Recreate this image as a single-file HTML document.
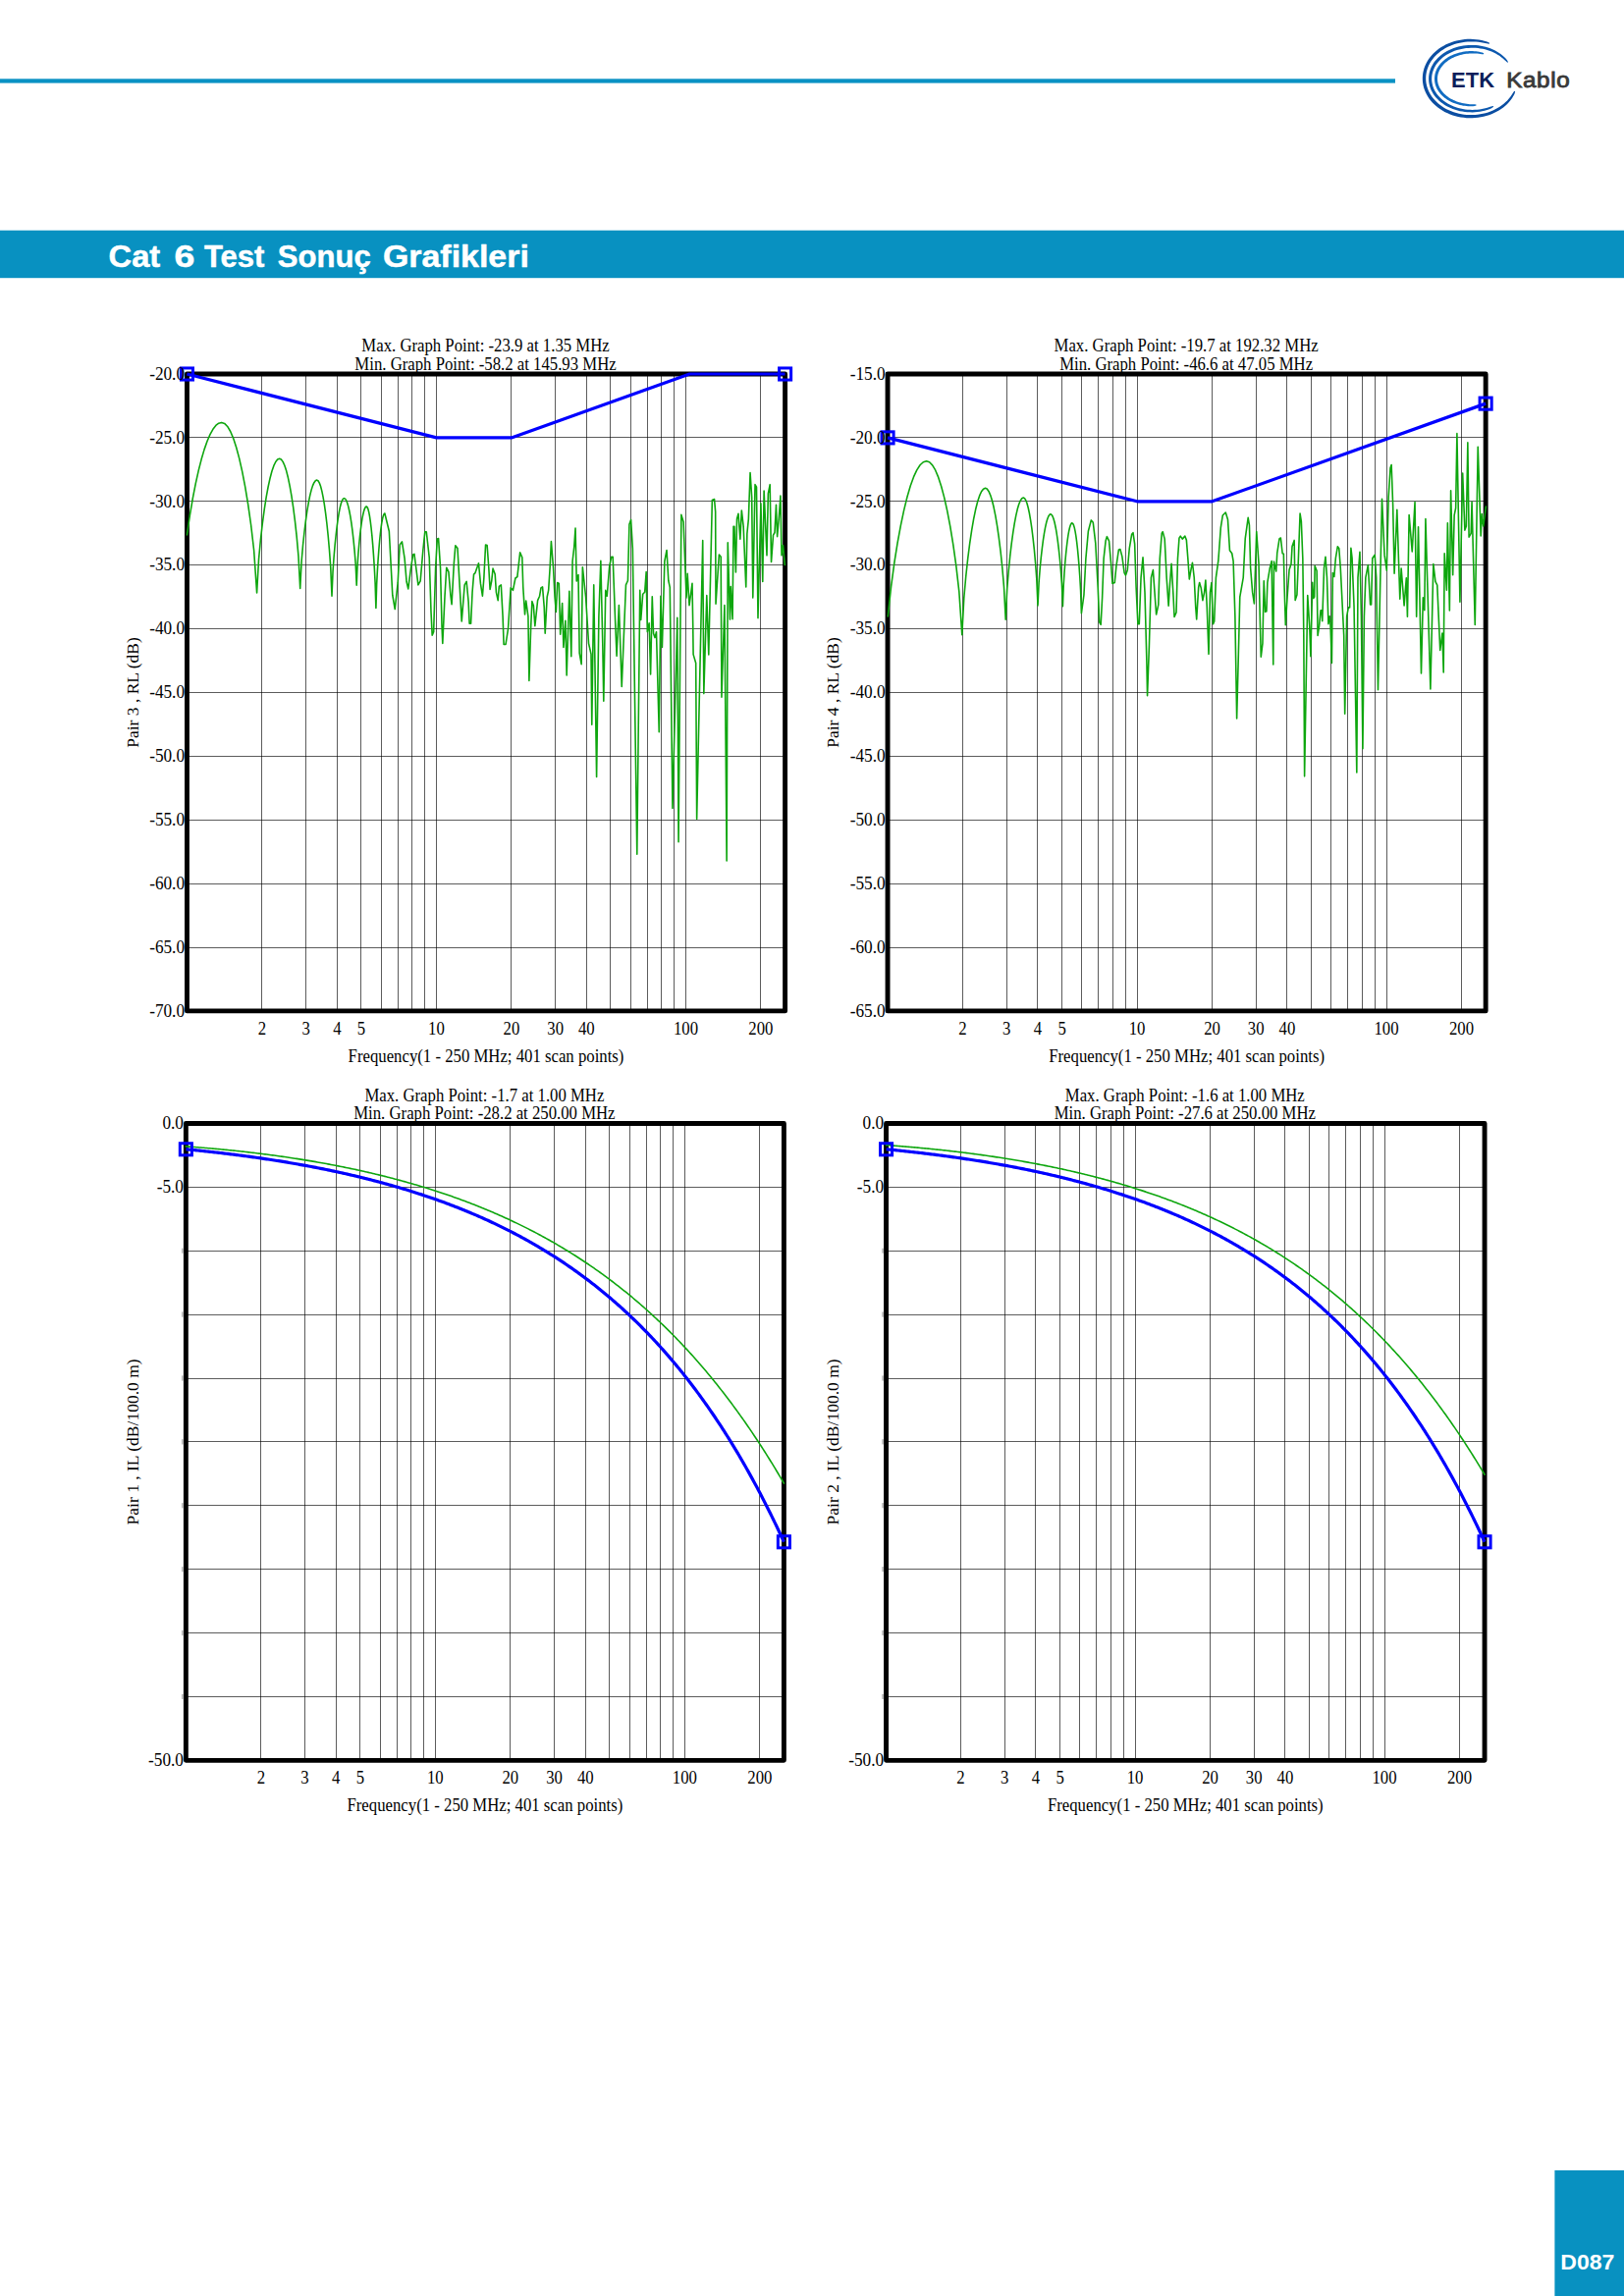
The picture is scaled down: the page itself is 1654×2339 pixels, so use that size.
<!DOCTYPE html>
<html><head><meta charset="utf-8"><title>Cat 6 Test Sonuç Grafikleri</title>
<style>html,body{margin:0;padding:0;background:#fff}body{width:1654px;height:2339px;overflow:hidden;font-family:"Liberation Serif",serif}svg{display:block}</style>
</head><body>
<svg width="1654" height="2339" viewBox="0 0 1654 2339">
<rect x="0" y="80.3" width="1421" height="4.3" fill="#0a92c4"/>
<rect x="0" y="234.7" width="1654" height="48.5" fill="#0891c1"/>
<rect x="1583.4" y="2211" width="80" height="140" fill="#0891c1"/>
<g font-family="'Liberation Serif', serif" font-size="16.75" fill="#000">
<path d="M266.5 381V1029.9M311.5 381V1029.9M343.5 381V1029.9M367.5 381V1029.9M388.5 381V1029.9M405.5 381V1029.9M419.5 381V1029.9M432.5 381V1029.9M444.5 381V1029.9M520.5 381V1029.9M565.5 381V1029.9M597.5 381V1029.9M621.5 381V1029.9M642.5 381V1029.9M659.5 381V1029.9M673.5 381V1029.9M686.5 381V1029.9M698.5 381V1029.9M774.5 381V1029.9" stroke="#000" stroke-opacity="0.64" stroke-width="1" fill="none"/>
<path d="M190.45 445.5H799.6M190.45 510.5H799.6M190.45 575.5H799.6M190.45 640.5H799.6M190.45 705.5H799.6M190.45 770.5H799.6M190.45 835.5H799.6M190.45 900.5H799.6M190.45 965.5H799.6" stroke="#000" stroke-opacity="0.64" stroke-width="1" fill="none"/>
<rect x="190.45" y="381" width="609.15" height="648.9" fill="none" stroke="#000" stroke-width="4.9" stroke-linejoin="round"/>
<polyline points="190.45,544.82 193.39,524.87 196.32,507.69 199.26,492.63 202.2,479.39 205.14,467.83 208.07,457.87 211.01,449.47 213.95,442.6 216.89,437.27 219.82,433.45 222.76,431.16 225.7,430.4 228.69,431.41 231.68,434.44 234.68,439.5 237.67,446.58 240.66,455.68 243.65,466.85 246.64,480.13 249.63,495.64 252.62,513.66 255.62,534.76 258.61,560.53 261.6,604 263.52,569.77 265.43,549.47 267.35,532.86 269.27,518.68 271.18,506.46 273.1,496 275.02,487.21 276.93,480.04 278.85,474.47 280.77,470.48 282.68,468.1 284.6,467.3 286.36,468.07 288.12,470.38 289.88,474.22 291.63,479.61 293.39,486.54 295.15,495.04 296.91,505.14 298.67,516.95 300.43,530.66 302.18,546.71 303.94,566.32 305.7,599.4 307.12,571.78 308.53,555.4 309.95,542 311.37,530.55 312.78,520.7 314.2,512.26 315.62,505.16 317.03,499.38 318.45,494.88 319.87,491.67 321.28,489.74 322.7,489.1 323.97,489.79 325.25,491.85 326.52,495.29 327.8,500.1 329.07,506.3 330.35,513.9 331.62,522.93 332.9,533.49 334.18,545.74 335.45,560.09 336.73,577.63 338,607.2 339.04,582.26 340.08,567.47 341.12,555.37 342.17,545.03 343.21,536.13 344.25,528.51 345.29,522.11 346.33,516.88 347.38,512.82 348.42,509.92 349.46,508.18 350.5,507.6 351.56,508.12 352.62,509.66 353.68,512.24 354.73,515.86 355.79,520.5 356.85,526.2 357.91,532.98 358.97,540.9 360.02,550.09 361.08,560.86 362.14,574.01 363.2,596.2 364.03,576.12 364.87,564.21 365.7,554.46 366.53,546.14 367.37,538.97 368.2,532.84 369.03,527.68 369.87,523.47 370.7,520.2 371.53,517.87 372.37,516.47 373.2,516 374.01,516.6 374.82,518.41 375.62,521.42 376.43,525.64 377.24,531.07 378.05,537.73 378.86,545.65 379.67,554.9 380.47,565.64 381.28,578.22 382.09,593.58 382.9,619.5 383.65,595.33 384.4,581.01 385.15,569.28 385.9,559.27 386.65,550.64 387.4,543.26 388.15,537.05 388.9,531.99 389.65,528.06 390.4,525.25 391.15,523.56 391.9,523 396.33,541.23 399.78,606.26 402.24,620.54 405.2,593.45 407.17,555.02 409.43,551.87 412.09,568.82 414.06,592.46 415.74,599.85 418.5,578.67 420.67,564.88 421.95,564.38 424.41,583.6 425.89,595.91 428.15,591.97 430.81,560.94 432.78,541.72 434.26,541.72 437.22,567.83 438.99,623 440.17,647.14 441.65,643.69 443.62,578.67 445.3,549.11 446.58,548.62 448.55,578.67 450.02,637.78 450.81,655.52 452.98,608.23 454.75,578.18 456.92,582.61 458.89,606.26 460.07,615.62 462.34,573.74 463.82,555.81 465.99,558.47 468.25,598.37 470.22,632.86 473.18,595.91 475.15,592.46 477.12,613.15 478.1,635.32 479.58,635.32 481.06,603.3 482.54,585.07 484.01,583.6 487.46,573.74 489.43,594.43 491.4,607.24 492.88,588.52 494.56,555.02 496.13,555.52 497.81,578.67 499.09,600.34 500.76,591.48 502.04,579.16 504.21,585.07 505.39,603.3 507.17,611.67 508.35,597.39 510.32,595.91 512.09,627.93 513.08,656.5 515.05,656.5 517.51,640.74 520.17,598.87 522.44,601.33 524.9,589.01 526.87,587.54 529.63,562.91 531.8,567.83 532.78,598.37 534.56,625.96 535.74,612.17 537.91,627.93 538.89,693.45 540.71,637.78 541.9,612.66 543.37,617.09 544.85,637.78 547.61,611.67 549.58,607.24 550.96,598.87 552.54,597.88 554.21,618.08 555.2,645.17 557.17,608.23 558.65,601.33 560.12,578.67 561.4,551.58 563.57,578.67 565.05,608.23 566.33,623.5 567.71,593.45 569.29,594.43 570.67,646.16 572.64,614.63 573.92,659.46 575.89,632.36 577.17,688.03 579.83,602.32 581.8,668.82 583.08,571.77 584.75,557 586.03,537.98 587.22,591.97 588.99,585.57 590.17,665.37 592.14,676.7 593.33,577.68 596.58,608.23 599.53,655.52 602,666.35 602.78,738.28 604.75,595.91 607.61,791.48 609.88,627.93 611.85,571.28 613.82,657.49 614.8,714.14 616.77,601.33 618.25,607.24 620.71,576.7 622.68,567.34 624.16,567.34 626.63,632.86 628.1,668.33 630.37,616.6 633.23,699.36 637.46,595.91 639.43,591.48 640.91,534.33 642.59,529.41 644.36,558.97 648.79,870.3 651.75,601.33 652.73,631.38 654.7,605.27 656.67,603.3 658.15,582.61 659.33,643.69 661.11,634.83 662.59,687.04 664.26,607.73 665.54,645.17 667.02,649.61 668.5,643.69 671.26,745.67 672.93,607.24 674.41,659.46 676.87,571.77 679.04,560.44 680.81,591.48 682.29,598.37 684.95,823.5 689.81,629.24 691.07,857.69 693.88,524.38 696.1,531.78 699.06,608.88 700.17,584.34 702.02,616.65 704.99,594.33 705.73,637.01 706.1,666.62 708.69,675.5 709.65,834.37 715.72,550.66 716.83,706.59 719.79,606.66 721.79,666.99 725.34,509.58 727.56,508.47 728.67,521.42 729.04,615.17 732.37,565.09 734.22,567.31 734.96,710.29 737.92,616.65 740.14,876.94 741.25,552.88 743.48,631.09 744.22,597.66 746.07,630.72 747.03,536.23 747.92,536.23 749.4,582.86 750.51,528.82 751.99,523.27 753.84,549.18 755.32,519.94 757.17,536.23 759.76,598.03 760.87,543.63 762.35,528.82 764.05,481.45 765.68,506.62 766.79,608.88 769.01,493.66 770.49,496.25 771.97,629.61 774.93,512.91 776.78,592.48 778.12,499.96 781,565.83 782.34,502.92 784.19,493.66 785.52,572.49 787.52,545.11 789,542.52 790.48,514.39 791.59,546.59 793.22,528.82 794.92,505.14 796.03,565.83 797.51,555.47 799.36,575.46" fill="none" stroke="#0ea60e" stroke-width="1.6" stroke-linejoin="round" stroke-linecap="round"/>
<polyline points="190.45,381 444.45,445.89 520.91,445.89 702.34,381 799.53,381" fill="none" stroke="#0000ff" stroke-width="3.2" stroke-linejoin="round"/>
<rect x="184.4" y="374.95" width="12.1" height="12.1" fill="none" stroke="#0000ff" stroke-width="3"/>
<rect x="793.55" y="374.95" width="12.1" height="12.1" fill="none" stroke="#0000ff" stroke-width="3"/>
<text transform="translate(188.05 386.75) scale(1.03 1.10)" text-anchor="end">-20.0</text>
<text transform="translate(188.05 451.64) scale(1.03 1.10)" text-anchor="end">-25.0</text>
<text transform="translate(188.05 516.53) scale(1.03 1.10)" text-anchor="end">-30.0</text>
<text transform="translate(188.05 581.42) scale(1.03 1.10)" text-anchor="end">-35.0</text>
<text transform="translate(188.05 646.31) scale(1.03 1.10)" text-anchor="end">-40.0</text>
<text transform="translate(188.05 711.2) scale(1.03 1.10)" text-anchor="end">-45.0</text>
<text transform="translate(188.05 776.09) scale(1.03 1.10)" text-anchor="end">-50.0</text>
<text transform="translate(188.05 840.98) scale(1.03 1.10)" text-anchor="end">-55.0</text>
<text transform="translate(188.05 905.87) scale(1.03 1.10)" text-anchor="end">-60.0</text>
<text transform="translate(188.05 970.76) scale(1.03 1.10)" text-anchor="end">-65.0</text>
<text transform="translate(188.05 1035.65) scale(1.03 1.10)" text-anchor="end">-70.0</text>
<text transform="translate(266.91 1053.8) scale(1 1.09)" text-anchor="middle">2</text>
<text transform="translate(311.64 1053.8) scale(1 1.09)" text-anchor="middle">3</text>
<text transform="translate(343.37 1053.8) scale(1 1.09)" text-anchor="middle">4</text>
<text transform="translate(367.99 1053.8) scale(1 1.09)" text-anchor="middle">5</text>
<text transform="translate(444.45 1053.8) scale(1 1.09)" text-anchor="middle">10</text>
<text transform="translate(520.91 1053.8) scale(1 1.09)" text-anchor="middle">20</text>
<text transform="translate(565.64 1053.8) scale(1 1.09)" text-anchor="middle">30</text>
<text transform="translate(597.37 1053.8) scale(1 1.09)" text-anchor="middle">40</text>
<text transform="translate(698.45 1053.8) scale(1 1.09)" text-anchor="middle">100</text>
<text transform="translate(774.91 1053.8) scale(1 1.09)" text-anchor="middle">200</text>
<text transform="translate(495.02 1081.8) scale(1 1.08)" text-anchor="middle">Frequency(1 - 250 MHz; 401 scan points)</text>
<text transform="translate(494.52 358) scale(1 1.07)" text-anchor="middle">Max. Graph Point: -23.9 at 1.35 MHz</text>
<text transform="translate(494.52 376.8) scale(1 1.07)" text-anchor="middle">Min. Graph Point: -58.2 at 145.93 MHz</text>
<text transform="translate(140.6 705.45) rotate(-90)" text-anchor="middle" font-size="17.5">Pair 3 , RL (dB)</text>
<path d="M980.5 381V1029.9M1025.5 381V1029.9M1056.5 381V1029.9M1081.5 381V1029.9M1101.5 381V1029.9M1118.5 381V1029.9M1133.5 381V1029.9M1146.5 381V1029.9M1158.5 381V1029.9M1234.5 381V1029.9M1279.5 381V1029.9M1310.5 381V1029.9M1335.5 381V1029.9M1355.5 381V1029.9M1372.5 381V1029.9M1387.5 381V1029.9M1400.5 381V1029.9M1412.5 381V1029.9M1488.5 381V1029.9" stroke="#000" stroke-opacity="0.64" stroke-width="1" fill="none"/>
<path d="M904.05 445.5H1513.15M904.05 510.5H1513.15M904.05 575.5H1513.15M904.05 640.5H1513.15M904.05 705.5H1513.15M904.05 770.5H1513.15M904.05 835.5H1513.15M904.05 900.5H1513.15M904.05 965.5H1513.15" stroke="#000" stroke-opacity="0.64" stroke-width="1" fill="none"/>
<rect x="904.05" y="381" width="609.1" height="648.9" fill="none" stroke="#000" stroke-width="4.9" stroke-linejoin="round"/>
<polyline points="904.3,627.96 907.57,597.65 910.85,573.49 914.12,552.9 917.4,535.06 920.67,519.57 923.95,506.28 927.23,495.08 930.5,485.94 933.77,478.84 937.05,473.76 940.33,470.72 943.6,469.7 946.62,470.73 949.63,473.82 952.65,478.97 955.67,486.18 958.68,495.46 961.7,506.84 964.72,520.37 967.73,536.19 970.75,554.54 973.77,576.04 976.78,602.3 979.8,646.6 981.77,609.21 983.75,587.05 985.72,568.91 987.7,553.41 989.67,540.07 991.65,528.65 993.62,519.05 995.6,511.21 997.58,505.13 999.55,500.78 1001.52,498.17 1003.5,497.3 1005.23,498.08 1006.95,500.42 1008.67,504.31 1010.4,509.77 1012.12,516.79 1013.85,525.39 1015.58,535.63 1017.3,547.59 1019.03,561.47 1020.75,577.73 1022.48,597.59 1024.2,631.1 1025.71,600.02 1027.22,581.6 1028.72,566.52 1030.23,553.64 1031.74,542.55 1033.25,533.06 1034.76,525.07 1036.27,518.56 1037.78,513.5 1039.28,509.89 1040.79,507.72 1042.3,507 1043.52,507.64 1044.75,509.56 1045.97,512.76 1047.2,517.24 1048.42,523.01 1049.65,530.07 1050.88,538.48 1052.1,548.3 1053.33,559.71 1054.55,573.06 1055.78,589.38 1057,616.9 1058.08,593.59 1059.17,579.76 1060.25,568.45 1061.33,558.79 1062.42,550.47 1063.5,543.35 1064.58,537.36 1065.67,532.48 1066.75,528.68 1067.83,525.97 1068.92,524.34 1070,523.8 1071.03,524.35 1072.07,525.99 1073.1,528.72 1074.13,532.54 1075.17,537.46 1076.2,543.49 1077.23,550.67 1078.27,559.05 1079.3,568.79 1080.33,580.19 1081.37,594.11 1082.4,617.6 1083.19,596.36 1083.98,583.78 1084.78,573.47 1085.57,564.67 1086.36,557.09 1087.15,550.6 1087.94,545.15 1088.73,540.7 1089.53,537.24 1090.32,534.78 1091.11,533.29 1091.9,532.8 1092.69,533.34 1093.48,534.94 1094.28,537.62 1095.07,541.36 1095.86,546.18 1096.65,552.1 1097.44,559.12 1098.23,567.34 1099.03,576.88 1099.82,588.04 1100.61,601.69 1101.4,624.7 1103.93,606.26 1105.9,568.82 1108.36,541.23 1111.32,529.9 1113.29,532.36 1115.75,553.05 1118.21,598.37 1119.69,633.84 1121.17,636.31 1122.65,608.23 1124.12,568.82 1126.09,551.08 1127.37,546.65 1129.54,551.08 1131.51,573.74 1132.99,594.43 1135.26,593.45 1136.93,576.7 1139.39,559.95 1140.87,559.46 1142.84,566.85 1145.11,583.6 1146.49,586.06 1148.26,580.64 1150.23,558.97 1152.69,544.19 1153.98,542.71 1155.65,554.04 1157.13,598.37 1158.9,635.81 1160.28,635.81 1162.05,588.52 1164.02,567.83 1166,603.3 1167.97,677.19 1168.56,708.72 1170.43,657.49 1172.4,588.52 1174.37,580.64 1176.34,608.23 1177.62,625.96 1179.79,616.11 1181.27,568.82 1183.24,543.2 1184.22,541.72 1186.19,549.11 1188.16,588.52 1190.13,617.09 1191.61,593.45 1193.09,574.24 1195.06,608.23 1196.04,628.42 1198.01,623.99 1199.49,568.82 1200.97,548.13 1202.25,546.16 1204.22,549.11 1206.88,546.16 1208.36,550.1 1209.84,568.82 1211.32,590 1213.29,578.67 1214.47,573.25 1216.24,588.52 1217.72,618.08 1218.7,630.89 1220.67,598.37 1221.66,593.45 1223.33,599.36 1224.91,611.67 1226.59,603.3 1227.87,590.99 1229.25,618.08 1231.02,666.35 1232.5,603.3 1233.98,593.45 1235.45,635.81 1236.73,632.86 1238.41,588.52 1240.87,570.79 1243.33,537.29 1245.31,524.98 1248.26,522.02 1250.48,529.26 1252.45,560.79 1254.71,563.74 1256.09,571.63 1257.87,627.78 1259.64,731.92 1261.32,667.19 1262.79,608.08 1266.24,588.37 1268.21,548.97 1271.17,527.29 1272.45,535.17 1273.63,578.52 1275.6,603.15 1277.37,614.98 1278.56,578.52 1279.74,541.58 1282,573.6 1283.48,637.64 1284.27,669.16 1285.95,655.37 1287.23,591.82 1288.61,623.35 1289.89,622.86 1290.87,593.3 1293.33,578.52 1295.11,571.63 1296.78,677.04 1297.47,572.12 1299.74,581.97 1300.72,563.74 1302.99,548.97 1304.37,547.98 1306.14,563.74 1307.33,564.24 1308.11,598.23 1309.3,636.65 1311.07,608.08 1313.04,580.49 1315.01,574.58 1316,556.85 1318.16,550.44 1319.15,611.53 1320.92,606.11 1322.4,568.67 1324.07,523.05 1325.35,531.23 1326.83,568.67 1327.82,647.49 1328.61,790.84 1331.76,606.6 1333.73,637.64 1334.91,668.67 1336.68,593.3 1337.67,609.56 1338.66,608.08 1339.15,576.55 1341.12,581.48 1342.1,647.49 1343.58,637.64 1345.06,621.87 1346.04,621.87 1346.73,632.71 1348.51,578.52 1349.99,567.19 1351.46,588.37 1352.94,635.67 1354.22,627.78 1354.91,633.69 1356.39,675.57 1357.37,583.45 1358.85,587.39 1360.33,568.67 1362.3,556.85 1363.78,558.82 1365.26,578.52 1367.23,617.93 1368.7,647.49 1369.69,727.29 1371.66,627.78 1373.33,618.92 1374.62,618.92 1375.9,558.33 1377.08,568.67 1379.05,617.93 1381.81,786.9 1382.99,588.37 1384.96,562.27 1386.44,627.78 1387.92,762.76 1389.39,627.78 1390.87,588.37 1393.33,575.57 1395.6,615.96 1396.59,615.96 1397.77,568.67 1400.23,565.22 1401.71,588.37 1403.48,702.66 1407.51,508.27 1410.1,565.64 1412.32,581.18 1414.17,506.42 1416.02,476.81 1417.13,473.48 1418.62,513.82 1420.1,584.14 1422.83,519.37 1424.54,573.04 1425.79,610.17 1427.13,578.96 1430.09,616.83 1432.31,588.7 1433.42,628.3 1435.12,524.56 1438.23,561.94 1441.04,511.6 1442.67,628.3 1444.52,536.77 1447.48,686.04 1449.33,608.69 1450.81,621.64 1451.92,528.63 1456.88,701.95 1459.84,574.52 1461.92,592.4 1463.77,596.1 1466.73,662.35 1468.95,644.96 1470.21,684.93 1471.17,563.79 1473.39,601.28 1474.35,532.7 1476.35,622.01 1477.61,499.76 1479.68,585.62 1481.16,524.93 1482.64,517.52 1483.9,441.65 1486.93,613.13 1489.67,481.99 1491.89,540.1 1493.37,536.03 1494.85,450.91 1496.11,547.13 1498.19,543.43 1499.07,511.23 1502.26,636.44 1505.22,455.35 1508.18,546.02 1509.29,523.45 1510.77,536.03 1513.36,516.04" fill="none" stroke="#0ea60e" stroke-width="1.6" stroke-linejoin="round" stroke-linecap="round"/>
<polyline points="904.05,445.89 1158.05,510.78 1234.51,510.78 1513.13,411.13" fill="none" stroke="#0000ff" stroke-width="3.2" stroke-linejoin="round"/>
<rect x="898" y="439.84" width="12.1" height="12.1" fill="none" stroke="#0000ff" stroke-width="3"/>
<rect x="1507.08" y="405.08" width="12.1" height="12.1" fill="none" stroke="#0000ff" stroke-width="3"/>
<text transform="translate(901.65 386.75) scale(1.03 1.10)" text-anchor="end">-15.0</text>
<text transform="translate(901.65 451.64) scale(1.03 1.10)" text-anchor="end">-20.0</text>
<text transform="translate(901.65 516.53) scale(1.03 1.10)" text-anchor="end">-25.0</text>
<text transform="translate(901.65 581.42) scale(1.03 1.10)" text-anchor="end">-30.0</text>
<text transform="translate(901.65 646.31) scale(1.03 1.10)" text-anchor="end">-35.0</text>
<text transform="translate(901.65 711.2) scale(1.03 1.10)" text-anchor="end">-40.0</text>
<text transform="translate(901.65 776.09) scale(1.03 1.10)" text-anchor="end">-45.0</text>
<text transform="translate(901.65 840.98) scale(1.03 1.10)" text-anchor="end">-50.0</text>
<text transform="translate(901.65 905.87) scale(1.03 1.10)" text-anchor="end">-55.0</text>
<text transform="translate(901.65 970.76) scale(1.03 1.10)" text-anchor="end">-60.0</text>
<text transform="translate(901.65 1035.65) scale(1.03 1.10)" text-anchor="end">-65.0</text>
<text transform="translate(980.51 1053.8) scale(1 1.09)" text-anchor="middle">2</text>
<text transform="translate(1025.24 1053.8) scale(1 1.09)" text-anchor="middle">3</text>
<text transform="translate(1056.97 1053.8) scale(1 1.09)" text-anchor="middle">4</text>
<text transform="translate(1081.59 1053.8) scale(1 1.09)" text-anchor="middle">5</text>
<text transform="translate(1158.05 1053.8) scale(1 1.09)" text-anchor="middle">10</text>
<text transform="translate(1234.51 1053.8) scale(1 1.09)" text-anchor="middle">20</text>
<text transform="translate(1279.24 1053.8) scale(1 1.09)" text-anchor="middle">30</text>
<text transform="translate(1310.97 1053.8) scale(1 1.09)" text-anchor="middle">40</text>
<text transform="translate(1412.05 1053.8) scale(1 1.09)" text-anchor="middle">100</text>
<text transform="translate(1488.51 1053.8) scale(1 1.09)" text-anchor="middle">200</text>
<text transform="translate(1208.6 1081.8) scale(1 1.08)" text-anchor="middle">Frequency(1 - 250 MHz; 401 scan points)</text>
<text transform="translate(1208.1 358) scale(1 1.07)" text-anchor="middle">Max. Graph Point: -19.7 at 192.32 MHz</text>
<text transform="translate(1208.1 376.8) scale(1 1.07)" text-anchor="middle">Min. Graph Point: -46.6 at 47.05 MHz</text>
<text transform="translate(854.4 705.45) rotate(-90)" text-anchor="middle" font-size="17.5">Pair 4 , RL (dB)</text>
<path d="M265.5 1144.5V1793.35M310.5 1144.5V1793.35M342.5 1144.5V1793.35M366.5 1144.5V1793.35M387.5 1144.5V1793.35M404.5 1144.5V1793.35M418.5 1144.5V1793.35M431.5 1144.5V1793.35M443.5 1144.5V1793.35M519.5 1144.5V1793.35M564.5 1144.5V1793.35M596.5 1144.5V1793.35M620.5 1144.5V1793.35M641.5 1144.5V1793.35M658.5 1144.5V1793.35M672.5 1144.5V1793.35M685.5 1144.5V1793.35M697.5 1144.5V1793.35M773.5 1144.5V1793.35" stroke="#000" stroke-opacity="0.64" stroke-width="1" fill="none"/>
<path d="M189.35 1209.5H798.4M189.35 1274.5H798.4M189.35 1339.5H798.4M189.35 1404.5H798.4M189.35 1468.5H798.4M189.35 1533.5H798.4M189.35 1598.5H798.4M189.35 1663.5H798.4M189.35 1728.5H798.4" stroke="#000" stroke-opacity="0.64" stroke-width="1" fill="none"/>
<rect x="189.35" y="1144.5" width="609.05" height="648.85" fill="none" stroke="#000" stroke-width="4.9" stroke-linejoin="round"/>
<polyline points="189.35,1167.88 190.87,1167.99 192.4,1168.11 193.92,1168.22 195.44,1168.33 196.96,1168.45 198.49,1168.57 200.01,1168.69 201.53,1168.81 203.05,1168.93 204.58,1169.05 206.1,1169.18 207.62,1169.3 209.14,1169.43 210.67,1169.56 212.19,1169.69 213.71,1169.82 215.23,1169.96 216.76,1170.09 218.28,1170.23 219.8,1170.37 221.33,1170.51 222.85,1170.65 224.37,1170.79 225.89,1170.94 227.42,1171.09 228.94,1171.23 230.46,1171.38 231.98,1171.54 233.51,1171.69 235.03,1171.84 236.55,1172 238.07,1172.16 239.6,1172.32 241.12,1172.48 242.64,1172.64 244.16,1172.81 245.69,1172.97 247.21,1173.14 248.73,1173.31 250.25,1173.48 251.78,1173.66 253.3,1173.83 254.82,1174.01 256.35,1174.19 257.87,1174.37 259.39,1174.55 260.91,1174.73 262.44,1174.92 263.96,1175.11 265.48,1175.3 267,1175.49 268.53,1175.68 270.05,1175.88 271.57,1176.07 273.09,1176.27 274.62,1176.47 276.14,1176.67 277.66,1176.88 279.18,1177.08 280.71,1177.29 282.23,1177.5 283.75,1177.71 285.28,1177.93 286.8,1178.14 288.32,1178.36 289.84,1178.58 291.37,1178.8 292.89,1179.02 294.41,1179.25 295.93,1179.48 297.46,1179.71 298.98,1179.94 300.5,1180.17 302.02,1180.41 303.55,1180.65 305.07,1180.88 306.59,1181.13 308.11,1181.37 309.64,1181.62 311.16,1181.86 312.68,1182.11 314.21,1182.37 315.73,1182.62 317.25,1182.88 318.77,1183.14 320.3,1183.4 321.82,1183.66 323.34,1183.93 324.86,1184.2 326.39,1184.47 327.91,1184.74 329.43,1185.01 330.95,1185.29 332.48,1185.57 334,1185.85 335.52,1186.13 337.04,1186.42 338.57,1186.71 340.09,1187 341.61,1187.29 343.14,1187.59 344.66,1187.88 346.18,1188.19 347.7,1188.49 349.23,1188.79 350.75,1189.1 352.27,1189.41 353.79,1189.72 355.32,1190.04 356.84,1190.36 358.36,1190.68 359.88,1191 361.41,1191.33 362.93,1191.65 364.45,1191.98 365.97,1192.32 367.5,1192.65 369.02,1192.99 370.54,1193.33 372.06,1193.68 373.59,1194.02 375.11,1194.37 376.63,1194.73 378.16,1195.08 379.68,1195.44 381.2,1195.8 382.72,1196.16 384.25,1196.53 385.77,1196.9 387.29,1197.27 388.81,1197.64 390.34,1198.02 391.86,1198.4 393.38,1198.78 394.9,1199.17 396.43,1199.56 397.95,1199.95 399.47,1200.35 400.99,1200.75 402.52,1201.15 404.04,1201.55 405.56,1201.96 407.09,1202.37 408.61,1202.78 410.13,1203.2 411.65,1203.62 413.18,1204.04 414.7,1204.47 416.22,1204.9 417.74,1205.33 419.27,1205.77 420.79,1206.21 422.31,1206.65 423.83,1207.1 425.36,1207.55 426.88,1208 428.4,1208.46 429.92,1208.92 431.45,1209.38 432.97,1209.85 434.49,1210.32 436.02,1210.79 437.54,1211.27 439.06,1211.75 440.58,1212.23 442.11,1212.72 443.63,1213.21 445.15,1213.71 446.67,1214.2 448.2,1214.71 449.72,1215.21 451.24,1215.72 452.76,1216.24 454.29,1216.76 455.81,1217.28 457.33,1217.8 458.85,1218.33 460.38,1218.86 461.9,1219.4 463.42,1219.94 464.95,1220.49 466.47,1221.04 467.99,1221.59 469.51,1222.15 471.04,1222.71 472.56,1223.27 474.08,1223.84 475.6,1224.42 477.13,1224.99 478.65,1225.58 480.17,1226.16 481.69,1226.75 483.22,1227.35 484.74,1227.95 486.26,1228.55 487.78,1229.16 489.31,1229.77 490.83,1230.39 492.35,1231.01 493.88,1231.64 495.4,1232.27 496.92,1232.9 498.44,1233.54 499.97,1234.19 501.49,1234.84 503.01,1235.49 504.53,1236.15 506.06,1236.81 507.58,1237.48 509.1,1238.15 510.62,1238.83 512.15,1239.51 513.67,1240.2 515.19,1240.9 516.71,1241.59 518.24,1242.3 519.76,1243 521.28,1243.72 522.8,1244.44 524.33,1245.16 525.85,1245.89 527.37,1246.62 528.9,1247.36 530.42,1248.1 531.94,1248.85 533.46,1249.61 534.99,1250.37 536.51,1251.14 538.03,1251.91 539.55,1252.69 541.08,1253.47 542.6,1254.26 544.12,1255.05 545.64,1255.85 547.17,1256.66 548.69,1257.47 550.21,1258.29 551.73,1259.11 553.26,1259.94 554.78,1260.77 556.3,1261.62 557.83,1262.46 559.35,1263.32 560.87,1264.18 562.39,1265.04 563.92,1265.91 565.44,1266.79 566.96,1267.67 568.48,1268.57 570.01,1269.46 571.53,1270.37 573.05,1271.28 574.57,1272.19 576.1,1273.12 577.62,1274.04 579.14,1274.98 580.66,1275.92 582.19,1276.87 583.71,1277.83 585.23,1278.79 586.76,1279.76 588.28,1280.74 589.8,1281.73 591.32,1282.72 592.85,1283.72 594.37,1284.72 595.89,1285.73 597.41,1286.75 598.94,1287.78 600.46,1288.82 601.98,1289.86 603.5,1290.91 605.03,1291.96 606.55,1293.03 608.07,1294.1 609.59,1295.18 611.12,1296.27 612.64,1297.36 614.16,1298.47 615.68,1299.58 617.21,1300.7 618.73,1301.82 620.25,1302.96 621.78,1304.1 623.3,1305.25 624.82,1306.41 626.34,1307.58 627.87,1308.76 629.39,1309.94 630.91,1311.13 632.43,1312.34 633.96,1313.55 635.48,1314.76 637,1315.99 638.52,1317.23 640.05,1318.47 641.57,1319.73 643.09,1320.99 644.61,1322.26 646.14,1323.54 647.66,1324.83 649.18,1326.13 650.71,1327.44 652.23,1328.76 653.75,1330.09 655.27,1331.42 656.8,1332.77 658.32,1334.13 659.84,1335.49 661.36,1336.87 662.89,1338.25 664.41,1339.65 665.93,1341.05 667.45,1342.47 668.98,1343.89 670.5,1345.33 672.02,1346.77 673.54,1348.23 675.07,1349.7 676.59,1351.17 678.11,1352.66 679.64,1354.16 681.16,1355.67 682.68,1357.19 684.2,1358.72 685.73,1360.26 687.25,1361.81 688.77,1363.38 690.29,1364.95 691.82,1366.54 693.34,1368.13 694.86,1369.74 696.38,1371.36 697.91,1373 699.43,1374.64 700.95,1376.29 702.47,1377.96 704,1379.64 705.52,1381.33 707.04,1383.03 708.57,1384.75 710.09,1386.48 711.61,1388.22 713.13,1389.97 714.66,1391.74 716.18,1393.51 717.7,1395.3 719.22,1397.11 720.75,1398.92 722.27,1400.75 723.79,1402.59 725.31,1404.45 726.84,1406.32 728.36,1408.2 729.88,1410.1 731.4,1412.01 732.93,1413.93 734.45,1415.87 735.97,1417.82 737.5,1419.78 739.02,1421.76 740.54,1423.75 742.06,1425.76 743.59,1427.78 745.11,1429.82 746.63,1431.87 748.15,1433.93 749.68,1436.01 751.2,1438.11 752.72,1440.22 754.24,1442.35 755.77,1444.49 757.29,1446.64 758.81,1448.81 760.33,1451 761.86,1453.2 763.38,1455.42 764.9,1457.66 766.42,1459.91 767.95,1462.18 769.47,1464.46 770.99,1466.76 772.52,1469.08 774.04,1471.41 775.56,1473.76 777.08,1476.13 778.61,1478.51 780.13,1480.91 781.65,1483.33 783.17,1485.77 784.7,1488.22 786.22,1490.69 787.74,1493.18 789.26,1495.69 790.79,1498.21 792.31,1500.76 793.83,1503.32 795.35,1505.9 796.88,1508.5 798.4,1511.11" fill="none" stroke="#0ea60e" stroke-width="1.6" stroke-linejoin="round" stroke-linecap="round"/>
<polyline points="189.35,1170.78 190.87,1170.93 192.4,1171.08 193.92,1171.23 195.44,1171.38 196.96,1171.53 198.49,1171.68 200.01,1171.84 201.53,1172 203.05,1172.15 204.58,1172.31 206.1,1172.48 207.62,1172.64 209.14,1172.8 210.67,1172.97 212.19,1173.13 213.71,1173.3 215.23,1173.47 216.76,1173.64 218.28,1173.81 219.8,1173.99 221.33,1174.16 222.85,1174.34 224.37,1174.52 225.89,1174.7 227.42,1174.88 228.94,1175.06 230.46,1175.24 231.98,1175.43 233.51,1175.62 235.03,1175.8 236.55,1175.99 238.07,1176.19 239.6,1176.38 241.12,1176.57 242.64,1176.77 244.16,1176.97 245.69,1177.17 247.21,1177.37 248.73,1177.57 250.25,1177.77 251.78,1177.98 253.3,1178.19 254.82,1178.4 256.35,1178.61 257.87,1178.82 259.39,1179.04 260.91,1179.25 262.44,1179.47 263.96,1179.69 265.48,1179.91 267,1180.13 268.53,1180.36 270.05,1180.58 271.57,1180.81 273.09,1181.04 274.62,1181.27 276.14,1181.51 277.66,1181.74 279.18,1181.98 280.71,1182.22 282.23,1182.46 283.75,1182.7 285.28,1182.95 286.8,1183.2 288.32,1183.44 289.84,1183.69 291.37,1183.95 292.89,1184.2 294.41,1184.46 295.93,1184.72 297.46,1184.98 298.98,1185.24 300.5,1185.5 302.02,1185.77 303.55,1186.04 305.07,1186.31 306.59,1186.58 308.11,1186.86 309.64,1187.13 311.16,1187.41 312.68,1187.69 314.21,1187.98 315.73,1188.26 317.25,1188.55 318.77,1188.84 320.3,1189.13 321.82,1189.43 323.34,1189.72 324.86,1190.02 326.39,1190.32 327.91,1190.63 329.43,1190.93 330.95,1191.24 332.48,1191.55 334,1191.86 335.52,1192.18 337.04,1192.5 338.57,1192.82 340.09,1193.14 341.61,1193.46 343.14,1193.79 344.66,1194.12 346.18,1194.45 347.7,1194.79 349.23,1195.13 350.75,1195.47 352.27,1195.81 353.79,1196.15 355.32,1196.5 356.84,1196.85 358.36,1197.2 359.88,1197.56 361.41,1197.92 362.93,1198.28 364.45,1198.64 365.97,1199.01 367.5,1199.38 369.02,1199.75 370.54,1200.12 372.06,1200.5 373.59,1200.88 375.11,1201.26 376.63,1201.65 378.16,1202.04 379.68,1202.43 381.2,1202.83 382.72,1203.22 384.25,1203.62 385.77,1204.03 387.29,1204.43 388.81,1204.84 390.34,1205.26 391.86,1205.67 393.38,1206.09 394.9,1206.51 396.43,1206.94 397.95,1207.37 399.47,1207.8 400.99,1208.23 402.52,1208.67 404.04,1209.11 405.56,1209.56 407.09,1210.01 408.61,1210.46 410.13,1210.91 411.65,1211.37 413.18,1211.83 414.7,1212.3 416.22,1212.77 417.74,1213.24 419.27,1213.71 420.79,1214.19 422.31,1214.68 423.83,1215.16 425.36,1215.65 426.88,1216.15 428.4,1216.64 429.92,1217.14 431.45,1217.65 432.97,1218.16 434.49,1218.67 436.02,1219.18 437.54,1219.7 439.06,1220.23 440.58,1220.76 442.11,1221.29 443.63,1221.82 445.15,1222.36 446.67,1222.91 448.2,1223.45 449.72,1224.01 451.24,1224.56 452.76,1225.12 454.29,1225.69 455.81,1226.26 457.33,1226.83 458.85,1227.4 460.38,1227.99 461.9,1228.57 463.42,1229.16 464.95,1229.76 466.47,1230.36 467.99,1230.96 469.51,1231.57 471.04,1232.18 472.56,1232.8 474.08,1233.42 475.6,1234.04 477.13,1234.68 478.65,1235.31 480.17,1235.95 481.69,1236.6 483.22,1237.25 484.74,1237.9 486.26,1238.56 487.78,1239.23 489.31,1239.9 490.83,1240.57 492.35,1241.25 493.88,1241.94 495.4,1242.63 496.92,1243.32 498.44,1244.02 499.97,1244.73 501.49,1245.44 503.01,1246.15 504.53,1246.88 506.06,1247.6 507.58,1248.34 509.1,1249.07 510.62,1249.82 512.15,1250.57 513.67,1251.32 515.19,1252.08 516.71,1252.85 518.24,1253.62 519.76,1254.4 521.28,1255.18 522.8,1255.97 524.33,1256.77 525.85,1257.57 527.37,1258.38 528.9,1259.19 530.42,1260.01 531.94,1260.84 533.46,1261.67 534.99,1262.51 536.51,1263.36 538.03,1264.21 539.55,1265.07 541.08,1265.93 542.6,1266.8 544.12,1267.68 545.64,1268.56 547.17,1269.45 548.69,1270.35 550.21,1271.26 551.73,1272.17 553.26,1273.09 554.78,1274.01 556.3,1274.94 557.83,1275.88 559.35,1276.83 560.87,1277.78 562.39,1278.74 563.92,1279.71 565.44,1280.69 566.96,1281.67 568.48,1282.66 570.01,1283.66 571.53,1284.67 573.05,1285.68 574.57,1286.7 576.1,1287.73 577.62,1288.77 579.14,1289.81 580.66,1290.87 582.19,1291.93 583.71,1293 585.23,1294.07 586.76,1295.16 588.28,1296.25 589.8,1297.36 591.32,1298.47 592.85,1299.59 594.37,1300.71 595.89,1301.85 597.41,1303 598.94,1304.15 600.46,1305.31 601.98,1306.49 603.5,1307.67 605.03,1308.86 606.55,1310.06 608.07,1311.27 609.59,1312.48 611.12,1313.71 612.64,1314.95 614.16,1316.19 615.68,1317.45 617.21,1318.72 618.73,1319.99 620.25,1321.28 621.78,1322.57 623.3,1323.88 624.82,1325.2 626.34,1326.52 627.87,1327.86 629.39,1329.21 630.91,1330.56 632.43,1331.93 633.96,1333.31 635.48,1334.7 637,1336.1 638.52,1337.51 640.05,1338.93 641.57,1340.37 643.09,1341.81 644.61,1343.27 646.14,1344.73 647.66,1346.21 649.18,1347.7 650.71,1349.21 652.23,1350.72 653.75,1352.25 655.27,1353.78 656.8,1355.34 658.32,1356.9 659.84,1358.47 661.36,1360.06 662.89,1361.66 664.41,1363.27 665.93,1364.9 667.45,1366.53 668.98,1368.19 670.5,1369.85 672.02,1371.53 673.54,1373.22 675.07,1374.92 676.59,1376.64 678.11,1378.37 679.64,1380.12 681.16,1381.87 682.68,1383.65 684.2,1385.43 685.73,1387.24 687.25,1389.05 688.77,1390.88 690.29,1392.73 691.82,1394.59 693.34,1396.46 694.86,1398.35 696.38,1400.26 697.91,1402.18 699.43,1404.11 700.95,1406.06 702.47,1408.03 704,1410.01 705.52,1412.01 707.04,1414.03 708.57,1416.06 710.09,1418.11 711.61,1420.17 713.13,1422.25 714.66,1424.35 716.18,1426.46 717.7,1428.6 719.22,1430.75 720.75,1432.91 722.27,1435.1 723.79,1437.3 725.31,1439.52 726.84,1441.76 728.36,1444.01 729.88,1446.29 731.4,1448.58 732.93,1450.9 734.45,1453.23 735.97,1455.58 737.5,1457.95 739.02,1460.34 740.54,1462.75 742.06,1465.17 743.59,1467.62 745.11,1470.09 746.63,1472.58 748.15,1475.09 749.68,1477.62 751.2,1480.17 752.72,1482.75 754.24,1485.34 755.77,1487.96 757.29,1490.59 758.81,1493.25 760.33,1495.93 761.86,1498.64 763.38,1501.36 764.9,1504.11 766.42,1506.88 767.95,1509.68 769.47,1512.5 770.99,1515.34 772.52,1518.2 774.04,1521.09 775.56,1524.01 777.08,1526.95 778.61,1529.91 780.13,1532.9 781.65,1535.91 783.17,1538.95 784.7,1542.01 786.22,1545.1 787.74,1548.22 789.26,1551.36 790.79,1554.53 792.31,1557.73 793.83,1560.95 795.35,1564.2 796.88,1567.48 798.4,1570.79" fill="none" stroke="#0000ff" stroke-width="3.2" stroke-linejoin="round"/>
<rect x="183.3" y="1164.73" width="12.1" height="12.1" fill="none" stroke="#0000ff" stroke-width="3"/>
<rect x="792.35" y="1564.74" width="12.1" height="12.1" fill="none" stroke="#0000ff" stroke-width="3"/>
<text transform="translate(186.95 1150.25) scale(1.03 1.10)" text-anchor="end">0.0</text>
<text transform="translate(186.95 1215.13) scale(1.03 1.10)" text-anchor="end">-5.0</text>
<rect x="185.15" y="1271.47" width="1.4" height="5.4" rx="0.6" fill="#a8a8a8"/>
<rect x="185.15" y="1336.36" width="1.4" height="5.4" rx="0.6" fill="#a8a8a8"/>
<rect x="185.15" y="1401.24" width="1.4" height="5.4" rx="0.6" fill="#a8a8a8"/>
<rect x="185.15" y="1466.12" width="1.4" height="5.4" rx="0.6" fill="#a8a8a8"/>
<rect x="185.15" y="1531.01" width="1.4" height="5.4" rx="0.6" fill="#a8a8a8"/>
<rect x="185.15" y="1595.89" width="1.4" height="5.4" rx="0.6" fill="#a8a8a8"/>
<rect x="185.15" y="1660.78" width="1.4" height="5.4" rx="0.6" fill="#a8a8a8"/>
<rect x="185.15" y="1725.66" width="1.4" height="5.4" rx="0.6" fill="#a8a8a8"/>
<text transform="translate(186.95 1799.1) scale(1.03 1.10)" text-anchor="end">-50.0</text>
<text transform="translate(265.81 1817.25) scale(1 1.09)" text-anchor="middle">2</text>
<text transform="translate(310.54 1817.25) scale(1 1.09)" text-anchor="middle">3</text>
<text transform="translate(342.27 1817.25) scale(1 1.09)" text-anchor="middle">4</text>
<text transform="translate(366.89 1817.25) scale(1 1.09)" text-anchor="middle">5</text>
<text transform="translate(443.35 1817.25) scale(1 1.09)" text-anchor="middle">10</text>
<text transform="translate(519.81 1817.25) scale(1 1.09)" text-anchor="middle">20</text>
<text transform="translate(564.54 1817.25) scale(1 1.09)" text-anchor="middle">30</text>
<text transform="translate(596.27 1817.25) scale(1 1.09)" text-anchor="middle">40</text>
<text transform="translate(697.35 1817.25) scale(1 1.09)" text-anchor="middle">100</text>
<text transform="translate(773.81 1817.25) scale(1 1.09)" text-anchor="middle">200</text>
<text transform="translate(493.88 1845.25) scale(1 1.08)" text-anchor="middle">Frequency(1 - 250 MHz; 401 scan points)</text>
<text transform="translate(493.38 1121.5) scale(1 1.07)" text-anchor="middle">Max. Graph Point: -1.7 at 1.00 MHz</text>
<text transform="translate(493.38 1140.3) scale(1 1.07)" text-anchor="middle">Min. Graph Point: -28.2 at 250.00 MHz</text>
<text transform="translate(140.6 1468.92) rotate(-90)" text-anchor="middle" font-size="17.5">Pair 1 , IL (dB/100.0 m)</text>
<path d="M978.5 1144.5V1793.35M1023.5 1144.5V1793.35M1054.5 1144.5V1793.35M1079.5 1144.5V1793.35M1099.5 1144.5V1793.35M1116.5 1144.5V1793.35M1131.5 1144.5V1793.35M1144.5 1144.5V1793.35M1156.5 1144.5V1793.35M1232.5 1144.5V1793.35M1277.5 1144.5V1793.35M1308.5 1144.5V1793.35M1333.5 1144.5V1793.35M1353.5 1144.5V1793.35M1370.5 1144.5V1793.35M1385.5 1144.5V1793.35M1398.5 1144.5V1793.35M1410.5 1144.5V1793.35M1486.5 1144.5V1793.35" stroke="#000" stroke-opacity="0.64" stroke-width="1" fill="none"/>
<path d="M902.55 1209.5H1512.05M902.55 1274.5H1512.05M902.55 1339.5H1512.05M902.55 1404.5H1512.05M902.55 1468.5H1512.05M902.55 1533.5H1512.05M902.55 1598.5H1512.05M902.55 1663.5H1512.05M902.55 1728.5H1512.05" stroke="#000" stroke-opacity="0.64" stroke-width="1" fill="none"/>
<rect x="902.55" y="1144.5" width="609.5" height="648.85" fill="none" stroke="#000" stroke-width="4.9" stroke-linejoin="round"/>
<polyline points="902.55,1166.59 904.07,1166.7 905.6,1166.81 907.12,1166.92 908.64,1167.03 910.17,1167.14 911.69,1167.26 913.22,1167.37 914.74,1167.49 916.26,1167.61 917.79,1167.73 919.31,1167.85 920.83,1167.98 922.36,1168.1 923.88,1168.23 925.41,1168.36 926.93,1168.49 928.45,1168.62 929.98,1168.75 931.5,1168.89 933.02,1169.02 934.55,1169.16 936.07,1169.3 937.6,1169.44 939.12,1169.58 940.64,1169.72 942.17,1169.87 943.69,1170.01 945.21,1170.16 946.74,1170.31 948.26,1170.46 949.79,1170.62 951.31,1170.77 952.83,1170.93 954.36,1171.09 955.88,1171.25 957.4,1171.41 958.93,1171.57 960.45,1171.73 961.98,1171.9 963.5,1172.07 965.02,1172.24 966.55,1172.41 968.07,1172.58 969.59,1172.76 971.12,1172.93 972.64,1173.11 974.17,1173.29 975.69,1173.47 977.21,1173.66 978.74,1173.84 980.26,1174.03 981.78,1174.22 983.31,1174.41 984.83,1174.6 986.36,1174.79 987.88,1174.99 989.4,1175.19 990.93,1175.39 992.45,1175.59 993.97,1175.79 995.5,1176 997.02,1176.2 998.55,1176.41 1000.07,1176.62 1001.59,1176.84 1003.12,1177.05 1004.64,1177.27 1006.16,1177.49 1007.69,1177.71 1009.21,1177.93 1010.74,1178.15 1012.26,1178.38 1013.78,1178.61 1015.31,1178.84 1016.83,1179.07 1018.36,1179.31 1019.88,1179.54 1021.4,1179.78 1022.93,1180.02 1024.45,1180.26 1025.97,1180.51 1027.5,1180.76 1029.02,1181 1030.55,1181.26 1032.07,1181.51 1033.59,1181.76 1035.12,1182.02 1036.64,1182.28 1038.16,1182.54 1039.69,1182.81 1041.21,1183.07 1042.73,1183.34 1044.26,1183.61 1045.78,1183.89 1047.31,1184.16 1048.83,1184.44 1050.35,1184.72 1051.88,1185 1053.4,1185.28 1054.92,1185.57 1056.45,1185.86 1057.97,1186.15 1059.5,1186.45 1061.02,1186.74 1062.54,1187.04 1064.07,1187.34 1065.59,1187.64 1067.12,1187.95 1068.64,1188.26 1070.16,1188.57 1071.69,1188.88 1073.21,1189.2 1074.73,1189.52 1076.26,1189.84 1077.78,1190.16 1079.3,1190.49 1080.83,1190.82 1082.35,1191.15 1083.88,1191.48 1085.4,1191.82 1086.92,1192.16 1088.45,1192.5 1089.97,1192.84 1091.49,1193.19 1093.02,1193.54 1094.54,1193.89 1096.07,1194.25 1097.59,1194.6 1099.11,1194.96 1100.64,1195.33 1102.16,1195.69 1103.68,1196.06 1105.21,1196.44 1106.73,1196.81 1108.26,1197.19 1109.78,1197.57 1111.3,1197.95 1112.83,1198.34 1114.35,1198.73 1115.88,1199.12 1117.4,1199.52 1118.92,1199.92 1120.45,1200.32 1121.97,1200.72 1123.49,1201.13 1125.02,1201.54 1126.54,1201.95 1128.07,1202.37 1129.59,1202.79 1131.11,1203.22 1132.64,1203.64 1134.16,1204.07 1135.68,1204.5 1137.21,1204.94 1138.73,1205.38 1140.25,1205.82 1141.78,1206.27 1143.3,1206.72 1144.83,1207.17 1146.35,1207.63 1147.87,1208.09 1149.4,1208.55 1150.92,1209.02 1152.44,1209.49 1153.97,1209.96 1155.49,1210.44 1157.02,1210.92 1158.54,1211.4 1160.06,1211.89 1161.59,1212.38 1163.11,1212.88 1164.63,1213.38 1166.16,1213.88 1167.68,1214.39 1169.21,1214.9 1170.73,1215.41 1172.25,1215.93 1173.78,1216.45 1175.3,1216.98 1176.82,1217.5 1178.35,1218.04 1179.87,1218.57 1181.4,1219.12 1182.92,1219.66 1184.44,1220.21 1185.97,1220.76 1187.49,1221.32 1189.01,1221.88 1190.54,1222.45 1192.06,1223.01 1193.59,1223.59 1195.11,1224.17 1196.63,1224.75 1198.16,1225.33 1199.68,1225.92 1201.2,1226.52 1202.73,1227.12 1204.25,1227.72 1205.78,1228.33 1207.3,1228.94 1208.82,1229.56 1210.35,1230.18 1211.87,1230.81 1213.39,1231.44 1214.92,1232.07 1216.44,1232.71 1217.97,1233.35 1219.49,1234 1221.01,1234.66 1222.54,1235.31 1224.06,1235.98 1225.59,1236.65 1227.11,1237.32 1228.63,1238 1230.16,1238.68 1231.68,1239.37 1233.2,1240.06 1234.73,1240.76 1236.25,1241.46 1237.78,1242.17 1239.3,1242.88 1240.82,1243.6 1242.35,1244.32 1243.87,1245.05 1245.39,1245.78 1246.92,1246.52 1248.44,1247.26 1249.96,1248.01 1251.49,1248.77 1253.01,1249.53 1254.54,1250.29 1256.06,1251.06 1257.58,1251.84 1259.11,1252.62 1260.63,1253.41 1262.15,1254.21 1263.68,1255 1265.2,1255.81 1266.73,1256.62 1268.25,1257.44 1269.77,1258.26 1271.3,1259.09 1272.82,1259.92 1274.35,1260.76 1275.87,1261.61 1277.39,1262.46 1278.92,1263.32 1280.44,1264.19 1281.96,1265.06 1283.49,1265.93 1285.01,1266.82 1286.53,1267.71 1288.06,1268.6 1289.58,1269.51 1291.11,1270.42 1292.63,1271.33 1294.15,1272.25 1295.68,1273.18 1297.2,1274.12 1298.72,1275.06 1300.25,1276.01 1301.77,1276.97 1303.3,1277.93 1304.82,1278.9 1306.34,1279.87 1307.87,1280.86 1309.39,1281.85 1310.91,1282.85 1312.44,1283.85 1313.96,1284.86 1315.49,1285.88 1317.01,1286.91 1318.53,1287.94 1320.06,1288.98 1321.58,1290.03 1323.11,1291.09 1324.63,1292.15 1326.15,1293.22 1327.68,1294.3 1329.2,1295.39 1330.72,1296.48 1332.25,1297.58 1333.77,1298.69 1335.3,1299.81 1336.82,1300.94 1338.34,1302.07 1339.87,1303.21 1341.39,1304.36 1342.91,1305.52 1344.44,1306.69 1345.96,1307.86 1347.48,1309.05 1349.01,1310.24 1350.53,1311.44 1352.06,1312.65 1353.58,1313.87 1355.1,1315.09 1356.63,1316.33 1358.15,1317.57 1359.67,1318.83 1361.2,1320.09 1362.72,1321.36 1364.25,1322.64 1365.77,1323.93 1367.29,1325.22 1368.82,1326.53 1370.34,1327.85 1371.87,1329.18 1373.39,1330.51 1374.91,1331.86 1376.44,1333.21 1377.96,1334.58 1379.48,1335.95 1381.01,1337.33 1382.53,1338.73 1384.06,1340.13 1385.58,1341.55 1387.1,1342.97 1388.63,1344.4 1390.15,1345.85 1391.67,1347.3 1393.2,1348.77 1394.72,1350.24 1396.24,1351.73 1397.77,1353.23 1399.29,1354.73 1400.82,1356.25 1402.34,1357.78 1403.86,1359.32 1405.39,1360.87 1406.91,1362.44 1408.43,1364.01 1409.96,1365.59 1411.48,1367.19 1413.01,1368.8 1414.53,1370.42 1416.05,1372.05 1417.58,1373.69 1419.1,1375.34 1420.62,1377.01 1422.15,1378.69 1423.67,1380.38 1425.2,1382.08 1426.72,1383.79 1428.24,1385.52 1429.77,1387.26 1431.29,1389.01 1432.82,1390.77 1434.34,1392.55 1435.86,1394.34 1437.39,1396.14 1438.91,1397.95 1440.43,1399.78 1441.96,1401.62 1443.48,1403.47 1445,1405.34 1446.53,1407.22 1448.05,1409.12 1449.58,1411.02 1451.1,1412.95 1452.62,1414.88 1454.15,1416.83 1455.67,1418.79 1457.19,1420.77 1458.72,1422.76 1460.24,1424.77 1461.77,1426.79 1463.29,1428.82 1464.81,1430.87 1466.34,1432.94 1467.86,1435.01 1469.38,1437.11 1470.91,1439.22 1472.43,1441.34 1473.96,1443.48 1475.48,1445.63 1477,1447.8 1478.53,1449.99 1480.05,1452.19 1481.57,1454.41 1483.1,1456.64 1484.62,1458.89 1486.15,1461.16 1487.67,1463.44 1489.19,1465.74 1490.72,1468.05 1492.24,1470.38 1493.76,1472.73 1495.29,1475.1 1496.81,1477.48 1498.34,1479.88 1499.86,1482.3 1501.38,1484.73 1502.91,1487.18 1504.43,1489.65 1505.95,1492.14 1507.48,1494.64 1509,1497.17 1510.53,1499.71 1512.05,1502.27" fill="none" stroke="#0ea60e" stroke-width="1.6" stroke-linejoin="round" stroke-linecap="round"/>
<polyline points="902.55,1170.78 904.07,1170.93 905.6,1171.08 907.12,1171.23 908.64,1171.38 910.17,1171.53 911.69,1171.68 913.22,1171.84 914.74,1172 916.26,1172.15 917.79,1172.31 919.31,1172.48 920.83,1172.64 922.36,1172.8 923.88,1172.97 925.41,1173.13 926.93,1173.3 928.45,1173.47 929.98,1173.64 931.5,1173.81 933.02,1173.99 934.55,1174.16 936.07,1174.34 937.6,1174.52 939.12,1174.7 940.64,1174.88 942.17,1175.06 943.69,1175.24 945.21,1175.43 946.74,1175.62 948.26,1175.8 949.79,1175.99 951.31,1176.19 952.83,1176.38 954.36,1176.57 955.88,1176.77 957.4,1176.97 958.93,1177.17 960.45,1177.37 961.98,1177.57 963.5,1177.77 965.02,1177.98 966.55,1178.19 968.07,1178.4 969.59,1178.61 971.12,1178.82 972.64,1179.04 974.17,1179.25 975.69,1179.47 977.21,1179.69 978.74,1179.91 980.26,1180.13 981.78,1180.36 983.31,1180.58 984.83,1180.81 986.36,1181.04 987.88,1181.27 989.4,1181.51 990.93,1181.74 992.45,1181.98 993.97,1182.22 995.5,1182.46 997.02,1182.7 998.55,1182.95 1000.07,1183.2 1001.59,1183.44 1003.12,1183.69 1004.64,1183.95 1006.16,1184.2 1007.69,1184.46 1009.21,1184.72 1010.74,1184.98 1012.26,1185.24 1013.78,1185.5 1015.31,1185.77 1016.83,1186.04 1018.36,1186.31 1019.88,1186.58 1021.4,1186.86 1022.93,1187.13 1024.45,1187.41 1025.97,1187.69 1027.5,1187.98 1029.02,1188.26 1030.55,1188.55 1032.07,1188.84 1033.59,1189.13 1035.12,1189.43 1036.64,1189.72 1038.16,1190.02 1039.69,1190.32 1041.21,1190.63 1042.73,1190.93 1044.26,1191.24 1045.78,1191.55 1047.31,1191.86 1048.83,1192.18 1050.35,1192.5 1051.88,1192.82 1053.4,1193.14 1054.92,1193.46 1056.45,1193.79 1057.97,1194.12 1059.5,1194.45 1061.02,1194.79 1062.54,1195.13 1064.07,1195.47 1065.59,1195.81 1067.12,1196.15 1068.64,1196.5 1070.16,1196.85 1071.69,1197.2 1073.21,1197.56 1074.73,1197.92 1076.26,1198.28 1077.78,1198.64 1079.3,1199.01 1080.83,1199.38 1082.35,1199.75 1083.88,1200.12 1085.4,1200.5 1086.92,1200.88 1088.45,1201.26 1089.97,1201.65 1091.49,1202.04 1093.02,1202.43 1094.54,1202.83 1096.07,1203.22 1097.59,1203.62 1099.11,1204.03 1100.64,1204.43 1102.16,1204.84 1103.68,1205.26 1105.21,1205.67 1106.73,1206.09 1108.26,1206.51 1109.78,1206.94 1111.3,1207.37 1112.83,1207.8 1114.35,1208.23 1115.88,1208.67 1117.4,1209.11 1118.92,1209.56 1120.45,1210.01 1121.97,1210.46 1123.49,1210.91 1125.02,1211.37 1126.54,1211.83 1128.07,1212.3 1129.59,1212.77 1131.11,1213.24 1132.64,1213.71 1134.16,1214.19 1135.68,1214.68 1137.21,1215.16 1138.73,1215.65 1140.25,1216.15 1141.78,1216.64 1143.3,1217.14 1144.83,1217.65 1146.35,1218.16 1147.87,1218.67 1149.4,1219.18 1150.92,1219.7 1152.44,1220.23 1153.97,1220.76 1155.49,1221.29 1157.02,1221.82 1158.54,1222.36 1160.06,1222.91 1161.59,1223.45 1163.11,1224.01 1164.63,1224.56 1166.16,1225.12 1167.68,1225.69 1169.21,1226.26 1170.73,1226.83 1172.25,1227.4 1173.78,1227.99 1175.3,1228.57 1176.82,1229.16 1178.35,1229.76 1179.87,1230.36 1181.4,1230.96 1182.92,1231.57 1184.44,1232.18 1185.97,1232.8 1187.49,1233.42 1189.01,1234.04 1190.54,1234.68 1192.06,1235.31 1193.59,1235.95 1195.11,1236.6 1196.63,1237.25 1198.16,1237.9 1199.68,1238.56 1201.2,1239.23 1202.73,1239.9 1204.25,1240.57 1205.78,1241.25 1207.3,1241.94 1208.82,1242.63 1210.35,1243.32 1211.87,1244.02 1213.39,1244.73 1214.92,1245.44 1216.44,1246.15 1217.97,1246.88 1219.49,1247.6 1221.01,1248.34 1222.54,1249.07 1224.06,1249.82 1225.59,1250.57 1227.11,1251.32 1228.63,1252.08 1230.16,1252.85 1231.68,1253.62 1233.2,1254.4 1234.73,1255.18 1236.25,1255.97 1237.78,1256.77 1239.3,1257.57 1240.82,1258.38 1242.35,1259.19 1243.87,1260.01 1245.39,1260.84 1246.92,1261.67 1248.44,1262.51 1249.96,1263.36 1251.49,1264.21 1253.01,1265.07 1254.54,1265.93 1256.06,1266.8 1257.58,1267.68 1259.11,1268.56 1260.63,1269.45 1262.15,1270.35 1263.68,1271.26 1265.2,1272.17 1266.73,1273.09 1268.25,1274.01 1269.77,1274.94 1271.3,1275.88 1272.82,1276.83 1274.35,1277.78 1275.87,1278.74 1277.39,1279.71 1278.92,1280.69 1280.44,1281.67 1281.96,1282.66 1283.49,1283.66 1285.01,1284.67 1286.53,1285.68 1288.06,1286.7 1289.58,1287.73 1291.11,1288.77 1292.63,1289.81 1294.15,1290.87 1295.68,1291.93 1297.2,1293 1298.72,1294.07 1300.25,1295.16 1301.77,1296.25 1303.3,1297.36 1304.82,1298.47 1306.34,1299.59 1307.87,1300.71 1309.39,1301.85 1310.91,1303 1312.44,1304.15 1313.96,1305.31 1315.49,1306.49 1317.01,1307.67 1318.53,1308.86 1320.06,1310.06 1321.58,1311.27 1323.11,1312.48 1324.63,1313.71 1326.15,1314.95 1327.68,1316.19 1329.2,1317.45 1330.72,1318.72 1332.25,1319.99 1333.77,1321.28 1335.3,1322.57 1336.82,1323.88 1338.34,1325.2 1339.87,1326.52 1341.39,1327.86 1342.91,1329.21 1344.44,1330.56 1345.96,1331.93 1347.48,1333.31 1349.01,1334.7 1350.53,1336.1 1352.06,1337.51 1353.58,1338.93 1355.1,1340.37 1356.63,1341.81 1358.15,1343.27 1359.67,1344.73 1361.2,1346.21 1362.72,1347.7 1364.25,1349.21 1365.77,1350.72 1367.29,1352.25 1368.82,1353.78 1370.34,1355.34 1371.87,1356.9 1373.39,1358.47 1374.91,1360.06 1376.44,1361.66 1377.96,1363.27 1379.48,1364.9 1381.01,1366.53 1382.53,1368.19 1384.06,1369.85 1385.58,1371.53 1387.1,1373.22 1388.63,1374.92 1390.15,1376.64 1391.67,1378.37 1393.2,1380.12 1394.72,1381.87 1396.24,1383.65 1397.77,1385.43 1399.29,1387.24 1400.82,1389.05 1402.34,1390.88 1403.86,1392.73 1405.39,1394.59 1406.91,1396.46 1408.43,1398.35 1409.96,1400.26 1411.48,1402.18 1413.01,1404.11 1414.53,1406.06 1416.05,1408.03 1417.58,1410.01 1419.1,1412.01 1420.62,1414.03 1422.15,1416.06 1423.67,1418.11 1425.2,1420.17 1426.72,1422.25 1428.24,1424.35 1429.77,1426.46 1431.29,1428.6 1432.82,1430.75 1434.34,1432.91 1435.86,1435.1 1437.39,1437.3 1438.91,1439.52 1440.43,1441.76 1441.96,1444.01 1443.48,1446.29 1445,1448.58 1446.53,1450.9 1448.05,1453.23 1449.58,1455.58 1451.1,1457.95 1452.62,1460.34 1454.15,1462.75 1455.67,1465.17 1457.19,1467.62 1458.72,1470.09 1460.24,1472.58 1461.77,1475.09 1463.29,1477.62 1464.81,1480.17 1466.34,1482.75 1467.86,1485.34 1469.38,1487.96 1470.91,1490.59 1472.43,1493.25 1473.96,1495.93 1475.48,1498.64 1477,1501.36 1478.53,1504.11 1480.05,1506.88 1481.57,1509.68 1483.1,1512.5 1484.62,1515.34 1486.15,1518.2 1487.67,1521.09 1489.19,1524.01 1490.72,1526.95 1492.24,1529.91 1493.76,1532.9 1495.29,1535.91 1496.81,1538.95 1498.34,1542.01 1499.86,1545.1 1501.38,1548.22 1502.91,1551.36 1504.43,1554.53 1505.95,1557.73 1507.48,1560.95 1509,1564.2 1510.53,1567.48 1512.05,1570.79" fill="none" stroke="#0000ff" stroke-width="3.2" stroke-linejoin="round"/>
<rect x="896.5" y="1164.73" width="12.1" height="12.1" fill="none" stroke="#0000ff" stroke-width="3"/>
<rect x="1506" y="1564.74" width="12.1" height="12.1" fill="none" stroke="#0000ff" stroke-width="3"/>
<text transform="translate(900.15 1150.25) scale(1.03 1.10)" text-anchor="end">0.0</text>
<text transform="translate(900.15 1215.13) scale(1.03 1.10)" text-anchor="end">-5.0</text>
<rect x="898.35" y="1271.47" width="1.4" height="5.4" rx="0.6" fill="#a8a8a8"/>
<rect x="898.35" y="1336.36" width="1.4" height="5.4" rx="0.6" fill="#a8a8a8"/>
<rect x="898.35" y="1401.24" width="1.4" height="5.4" rx="0.6" fill="#a8a8a8"/>
<rect x="898.35" y="1466.12" width="1.4" height="5.4" rx="0.6" fill="#a8a8a8"/>
<rect x="898.35" y="1531.01" width="1.4" height="5.4" rx="0.6" fill="#a8a8a8"/>
<rect x="898.35" y="1595.89" width="1.4" height="5.4" rx="0.6" fill="#a8a8a8"/>
<rect x="898.35" y="1660.78" width="1.4" height="5.4" rx="0.6" fill="#a8a8a8"/>
<rect x="898.35" y="1725.66" width="1.4" height="5.4" rx="0.6" fill="#a8a8a8"/>
<text transform="translate(900.15 1799.1) scale(1.03 1.10)" text-anchor="end">-50.0</text>
<text transform="translate(978.51 1817.25) scale(1 1.09)" text-anchor="middle">2</text>
<text transform="translate(1023.24 1817.25) scale(1 1.09)" text-anchor="middle">3</text>
<text transform="translate(1054.97 1817.25) scale(1 1.09)" text-anchor="middle">4</text>
<text transform="translate(1079.59 1817.25) scale(1 1.09)" text-anchor="middle">5</text>
<text transform="translate(1156.05 1817.25) scale(1 1.09)" text-anchor="middle">10</text>
<text transform="translate(1232.51 1817.25) scale(1 1.09)" text-anchor="middle">20</text>
<text transform="translate(1277.24 1817.25) scale(1 1.09)" text-anchor="middle">30</text>
<text transform="translate(1308.97 1817.25) scale(1 1.09)" text-anchor="middle">40</text>
<text transform="translate(1410.05 1817.25) scale(1 1.09)" text-anchor="middle">100</text>
<text transform="translate(1486.51 1817.25) scale(1 1.09)" text-anchor="middle">200</text>
<text transform="translate(1207.3 1845.25) scale(1 1.08)" text-anchor="middle">Frequency(1 - 250 MHz; 401 scan points)</text>
<text transform="translate(1206.8 1121.5) scale(1 1.07)" text-anchor="middle">Max. Graph Point: -1.6 at 1.00 MHz</text>
<text transform="translate(1206.8 1140.3) scale(1 1.07)" text-anchor="middle">Min. Graph Point: -27.6 at 250.00 MHz</text>
<text transform="translate(854.4 1468.92) rotate(-90)" text-anchor="middle" font-size="17.5">Pair 2 , IL (dB/100.0 m)</text>
</g>
<text transform="translate(110.57 271.5) scale(1.02 1)" font-family="'Liberation Sans', sans-serif" font-weight="bold" font-size="32" fill="#fff" stroke="#fff" stroke-width="0.5" stroke-linejoin="round">Cat</text>
<text transform="translate(177.43 271.5) scale(1.17 1)" font-family="'Liberation Sans', sans-serif" font-weight="bold" font-size="32" fill="#fff" stroke="#fff" stroke-width="0.5" stroke-linejoin="round">6</text>
<text transform="translate(207.91 271.5) scale(0.97 1)" font-family="'Liberation Sans', sans-serif" font-weight="bold" font-size="32" fill="#fff" stroke="#fff" stroke-width="0.5" stroke-linejoin="round">Test</text>
<text transform="translate(282.83 271.5) scale(0.97 1)" font-family="'Liberation Sans', sans-serif" font-weight="bold" font-size="32" fill="#fff" stroke="#fff" stroke-width="0.5" stroke-linejoin="round">Sonuç</text>
<text transform="translate(389.9 271.5) scale(1.06 1)" font-family="'Liberation Sans', sans-serif" font-weight="bold" font-size="32" fill="#fff" stroke="#fff" stroke-width="0.5" stroke-linejoin="round">Grafikleri</text>
<text transform="translate(1589.26 2312.4) scale(1.02 1)" font-family="'Liberation Sans', sans-serif" font-weight="bold" font-size="22.6" fill="#fff">D087</text>
<polygon points="1517.11,43.84 1514.57,42.56 1511.86,41.72 1509.09,41.04 1506.26,40.51 1503.4,40.13 1500.52,39.9 1497.62,39.81 1494.72,39.86 1491.83,40.06 1488.96,40.41 1486.12,40.89 1483.31,41.52 1480.56,42.28 1477.87,43.18 1475.24,44.21 1472.69,45.37 1470.23,46.65 1467.87,48.06 1465.61,49.58 1463.46,51.21 1461.44,52.94 1459.54,54.78 1457.77,56.71 1456.15,58.72 1454.68,60.81 1453.36,62.98 1452.2,65.21 1451.21,67.5 1450.38,69.83 1449.73,72.21 1449.25,74.61 1448.94,77.04 1448.82,79.47 1448.87,81.91 1449.1,84.34 1449.51,86.76 1450.1,89.15 1450.86,91.5 1451.79,93.81 1452.89,96.07 1454.15,98.27 1455.56,100.4 1457.13,102.45 1458.84,104.42 1460.69,106.3 1462.67,108.08 1464.77,109.76 1466.99,111.33 1469.32,112.79 1471.75,114.13 1474.27,115.35 1476.88,116.44 1479.55,117.4 1482.29,118.22 1485.08,118.91 1487.92,119.46 1490.79,119.87 1493.69,120.14 1496.6,120.27 1499.51,120.26 1502.42,120.1 1505.31,119.8 1508.17,119.35 1511,118.77 1513.77,118.05 1516.5,117.2 1519.15,116.21 1521.73,115.09 1524.22,113.85 1526.62,112.49 1528.91,111.01 1531.09,109.41 1533.15,107.71 1535.08,105.92 1536.88,104.02 1538.52,102.04 1540.02,99.98 1541.34,97.84 1542.48,95.63 1543.16,93.25 1542.23,92.84 1540.83,94.76 1539.57,96.76 1538.2,98.7 1536.71,100.57 1535.09,102.38 1533.34,104.1 1531.47,105.75 1529.49,107.3 1527.4,108.75 1525.2,110.1 1522.92,111.35 1520.54,112.48 1518.08,113.5 1515.56,114.4 1512.97,115.17 1510.33,115.82 1507.64,116.34 1504.93,116.73 1502.19,116.98 1499.43,117.11 1496.67,117.1 1493.92,116.95 1491.18,116.68 1488.47,116.27 1485.8,115.73 1483.17,115.06 1480.59,114.27 1478.08,113.35 1475.65,112.31 1473.29,111.16 1471.03,109.9 1468.86,108.54 1466.8,107.07 1464.85,105.51 1463.03,103.85 1461.33,102.12 1459.76,100.31 1458.33,98.43 1457.04,96.48 1455.89,94.48 1454.9,92.44 1454.05,90.35 1453.37,88.22 1452.83,86.07 1452.46,83.9 1452.24,81.71 1452.19,79.52 1452.29,77.32 1452.55,75.14 1452.98,72.97 1453.56,70.82 1454.29,68.7 1455.18,66.62 1456.23,64.58 1457.42,62.59 1458.75,60.66 1460.23,58.79 1461.84,57 1463.58,55.28 1465.45,53.65 1467.44,52.11 1469.54,50.66 1471.74,49.32 1474.04,48.08 1476.43,46.96 1478.89,45.95 1481.43,45.06 1484.03,44.3 1486.69,43.66 1489.38,43.15 1492.11,42.76 1494.87,42.51 1497.64,42.4 1500.41,42.41 1503.18,42.55 1505.93,42.82 1508.67,43.22 1511.37,43.74 1514.04,44.35 1516.77,44.8" fill="#0b4ea2"/>
<polygon points="1536.01,63.17 1534.94,61.26 1533.51,59.58 1531.93,57.98 1530.22,56.47 1528.4,55.05 1526.47,53.72 1524.44,52.48 1522.32,51.34 1520.12,50.31 1517.84,49.37 1515.5,48.55 1513.1,47.83 1510.65,47.23 1508.15,46.74 1505.63,46.37 1503.08,46.11 1500.52,45.97 1497.95,45.95 1495.38,46.05 1492.82,46.27 1490.29,46.6 1487.78,47.05 1485.31,47.61 1482.89,48.29 1480.52,49.08 1478.21,49.97 1475.97,50.97 1473.81,52.08 1471.74,53.28 1469.76,54.58 1467.87,55.96 1466.1,57.44 1464.43,59 1462.89,60.63 1461.47,62.34 1460.18,64.11 1459.02,65.94 1458.01,67.82 1457.14,69.76 1456.42,71.73 1455.84,73.73 1455.43,75.76 1455.16,77.81 1455.06,79.86 1455.11,81.92 1455.32,83.97 1455.68,86.01 1456.2,88.02 1456.87,90 1457.69,91.94 1458.65,93.84 1459.76,95.69 1461,97.48 1462.37,99.21 1463.87,100.86 1465.5,102.44 1467.23,103.94 1469.07,105.36 1471.02,106.68 1473.06,107.92 1475.19,109.05 1477.4,110.08 1479.68,111.01 1482.02,111.83 1484.42,112.54 1486.87,113.14 1489.36,113.62 1491.88,113.99 1494.43,114.24 1496.99,114.37 1499.55,114.39 1502.11,114.28 1504.65,114.05 1507.18,113.71 1509.67,113.25 1512.12,112.66 1514.52,111.96 1516.86,111.14 1519.12,110.19 1521.19,108.87 1520.79,108.03 1518.48,108.61 1516.24,109.36 1513.95,110.02 1511.62,110.6 1509.25,111.07 1506.84,111.44 1504.42,111.71 1501.98,111.86 1499.53,111.91 1497.08,111.85 1494.64,111.68 1492.22,111.4 1489.83,111.01 1487.47,110.51 1485.15,109.91 1482.89,109.21 1480.68,108.41 1478.54,107.51 1476.47,106.51 1474.49,105.43 1472.6,104.26 1470.8,103 1469.1,101.67 1467.5,100.27 1466.02,98.81 1464.66,97.28 1463.42,95.69 1462.3,94.06 1461.31,92.38 1460.45,90.67 1459.73,88.92 1459.14,87.15 1458.69,85.36 1458.37,83.55 1458.19,81.73 1458.15,79.91 1458.25,78.09 1458.48,76.27 1458.85,74.47 1459.36,72.69 1460.01,70.93 1460.79,69.19 1461.7,67.5 1462.74,65.84 1463.91,64.23 1465.2,62.67 1466.6,61.17 1468.13,59.74 1469.76,58.37 1471.5,57.07 1473.34,55.86 1475.26,54.73 1477.28,53.68 1479.37,52.73 1481.53,51.87 1483.76,51.11 1486.04,50.46 1488.37,49.9 1490.74,49.46 1493.14,49.12 1495.57,48.89 1498,48.77 1500.45,48.76 1502.88,48.86 1505.31,49.08 1507.72,49.4 1510.09,49.83 1512.43,50.36 1514.73,51 1516.97,51.74 1519.15,52.58 1521.26,53.52 1523.3,54.55 1525.25,55.66 1527.12,56.86 1528.9,58.14 1530.58,59.49 1532.16,60.91 1533.66,62.37 1535.27,63.74" fill="#0c58ae"/>
<polygon points="1511.25,54.32 1509.75,53.58 1508.15,53.16 1506.52,52.82 1504.88,52.55 1503.22,52.35 1501.54,52.2 1499.86,52.11 1498.18,52.09 1496.49,52.12 1494.81,52.21 1493.14,52.36 1491.48,52.56 1489.83,52.82 1488.2,53.14 1486.58,53.51 1485,53.94 1483.43,54.42 1481.9,54.95 1480.4,55.54 1478.94,56.17 1477.52,56.86 1476.14,57.59 1474.8,58.37 1473.51,59.2 1472.27,60.07 1471.08,60.98 1469.95,61.94 1468.87,62.93 1467.86,63.96 1466.91,65.03 1466.02,66.13 1465.2,67.26 1464.44,68.42 1463.76,69.6 1463.15,70.81 1462.61,72.05 1462.15,73.3 1461.76,74.57 1461.46,75.85 1461.23,77.14 1461.08,78.44 1461.01,79.74 1461.02,81.05 1461.11,82.35 1461.28,83.65 1461.53,84.94 1461.85,86.22 1462.26,87.48 1462.74,88.73 1463.3,89.95 1463.93,91.16 1464.63,92.34 1465.4,93.49 1466.24,94.61 1467.14,95.7 1468.11,96.75 1469.14,97.77 1470.23,98.75 1471.37,99.69 1472.57,100.59 1473.82,101.45 1475.12,102.26 1476.47,103.02 1477.86,103.74 1479.3,104.41 1480.77,105.03 1482.27,105.6 1483.81,106.12 1485.38,106.58 1486.97,106.99 1488.58,107.34 1490.22,107.63 1491.87,107.87 1493.53,108.05 1495.2,108.17 1496.88,108.23 1498.56,108.23 1500.24,108.15 1501.91,107.99 1503.54,107.5 1503.46,106.61 1501.81,106.35 1500.2,106.32 1498.58,106.27 1496.97,106.17 1495.37,106.03 1493.78,105.85 1492.2,105.61 1490.63,105.33 1489.09,105 1487.57,104.61 1486.07,104.19 1484.6,103.71 1483.16,103.19 1481.76,102.62 1480.39,102.01 1479.07,101.36 1477.78,100.66 1476.54,99.93 1475.35,99.15 1474.21,98.34 1473.12,97.5 1472.08,96.62 1471.1,95.71 1470.18,94.78 1469.32,93.81 1468.52,92.83 1467.78,91.82 1467.11,90.79 1466.5,89.74 1465.95,88.67 1465.47,87.59 1465.06,86.5 1464.71,85.4 1464.44,84.29 1464.23,83.18 1464.08,82.06 1464.01,80.94 1464,79.82 1464.07,78.69 1464.19,77.57 1464.39,76.46 1464.66,75.35 1464.99,74.25 1465.39,73.16 1465.85,72.08 1466.39,71.01 1466.98,69.96 1467.64,68.93 1468.37,67.92 1469.16,66.93 1470.01,65.96 1470.92,65.02 1471.88,64.11 1472.91,63.23 1473.99,62.38 1475.12,61.57 1476.3,60.79 1477.53,60.05 1478.8,59.35 1480.12,58.69 1481.47,58.08 1482.87,57.51 1484.3,56.98 1485.76,56.5 1487.25,56.07 1488.76,55.68 1490.3,55.35 1491.86,55.06 1493.43,54.83 1495.02,54.64 1496.62,54.51 1498.22,54.43 1499.83,54.4 1501.44,54.42 1503.04,54.48 1504.64,54.6 1506.23,54.76 1507.82,54.96 1509.39,55.18 1511.02,55.19" fill="#116cc2"/>
<text transform="translate(1478.12 88.7) scale(1 1)" font-family="'Liberation Sans', sans-serif" font-weight="bold" font-size="22" fill="#0b1e5b">ETK</text>
<text transform="translate(1534.13 88.7) scale(1.12 1)" font-family="'Liberation Sans', sans-serif" font-weight="normal" font-size="21.6" fill="#3a3a3a" letter-spacing="0.6" stroke="#3a3a3a" stroke-width="0.85">Kablo</text>
</svg>
</body></html>
